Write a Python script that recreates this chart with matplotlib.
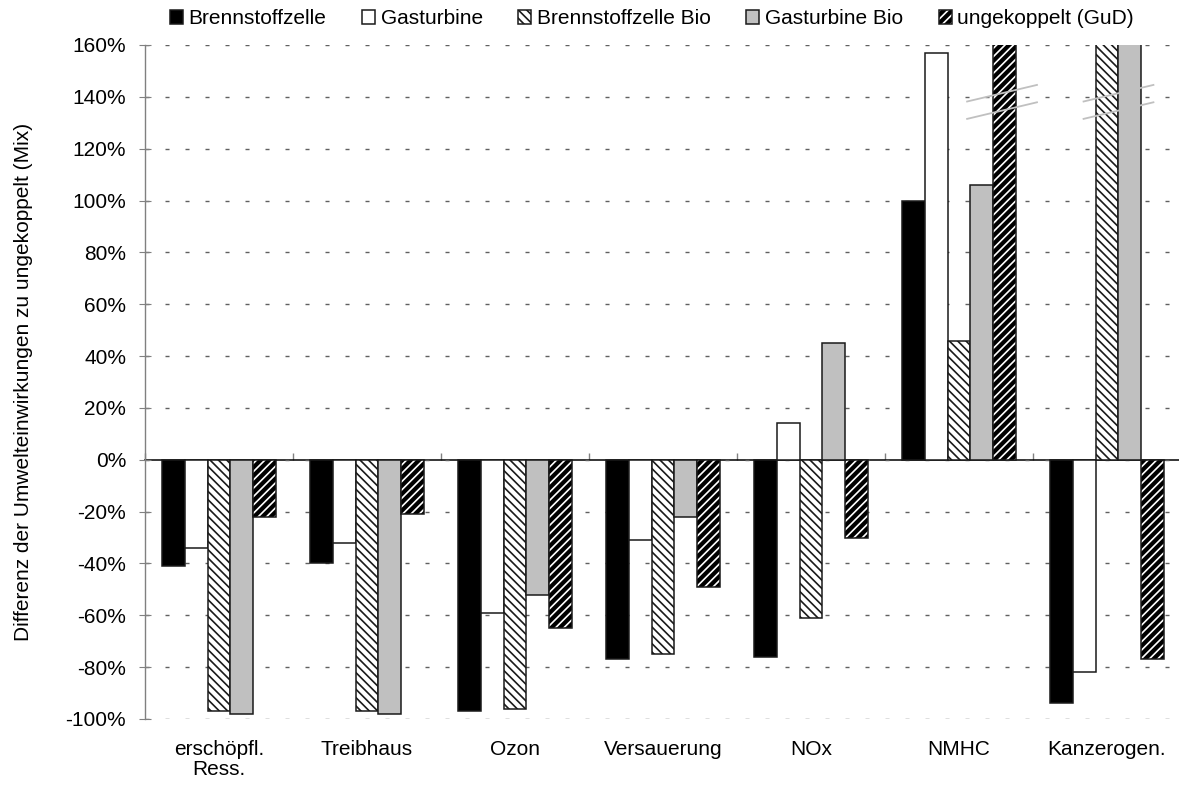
import numpy as np
import matplotlib
matplotlib.use("Agg")
import matplotlib.pyplot as plt
from matplotlib.ticker import FuncFormatter

plt.rcParams['font.family'] = ['Liberation Sans', 'DejaVu Sans']
plt.rcParams['font.size'] = 15
plt.rcParams['hatch.linewidth'] = 1.2

# data (% difference vs. uncoupled generation); values above 160% are off-scale
categories = ['erschöpfl.\nRess.', 'Treibhaus', 'Ozon', 'Versauerung', 'NOx', 'NMHC', 'Kanzerogen.']
brennstoffzelle = [-41, -40, -97, -77, -76, 100, -94]
gasturbine = [-34, -32, -59, -31, 14, 157, -82]
brennstoffzelle_bio = [-97, -97, -96, -75, -61, 46, 380]
gasturbine_bio = [-98, -98, -52, -22, 45, 106, 300]
ungekoppelt = [-22, -21, -65, -49, -30, 250, -77]
series_names = ['Brennstoffzelle', 'Gasturbine', 'Brennstoffzelle Bio',
                'Gasturbine Bio', 'ungekoppelt (GuD)']
yticks = np.arange(-100, 161, 20)

fig = plt.figure(figsize=(11.79, 7.94), dpi=100)
ax = fig.add_axes([145 / 1179, 1 - 719 / 794, 1036 / 1179, 674 / 794])

n = len(categories)
x = np.arange(n) + 0.5
w = 0.1554
offs = (np.arange(5) - 2) * w
edge = '#1a1a1a'
lw = 1.1

b1 = ax.bar(x + offs[0], brennstoffzelle, w, color='black', edgecolor=edge, lw=lw)
b2 = ax.bar(x + offs[1], gasturbine, w, color='white', edgecolor=edge, lw=lw)
b3 = ax.bar(x + offs[2], brennstoffzelle_bio, w, color='white', edgecolor=edge, lw=lw,
            hatch='\\\\\\\\')
b4 = ax.bar(x + offs[3], gasturbine_bio, w, color='#c0c0c0', edgecolor=edge, lw=lw)
# dense hatch: black face with white stripes, outline drawn separately
b5f = ax.bar(x + offs[4], ungekoppelt, w, color='black', edgecolor='white', lw=0,
             hatch='////')
b5e = ax.bar(x + offs[4], ungekoppelt, w, fill=False, edgecolor=edge, lw=lw)

ax.set_xlim(0, n)
ax.set_ylim(-100, 160)
ax.set_yticks(yticks)
ax.yaxis.set_major_formatter(FuncFormatter(lambda v, p: f'{v:.0f}%'))
ax.set_xticks(x, categories, linespacing=1.1)
ax.tick_params(axis='x', length=0, pad=15)
ax.tick_params(axis='y', direction='inout', length=8, color='#808080', pad=9.5)

for s in ['top', 'right', 'bottom']:
    ax.spines[s].set_visible(False)
ax.spines['left'].set_color('#808080')
ax.spines['left'].set_linewidth(1.0)

ax.set_axisbelow(True)
ax.yaxis.grid(True, color='#606060', lw=1.0, dashes=(2.9, 11.5))

# zero line with category boundary ticks
zero_frac = (0 - (-100)) / (160 - (-100))
sec = ax.secondary_xaxis(zero_frac)
sec.set_xticks(np.arange(n + 1))
sec.set_xticklabels([])
sec.tick_params(direction='in', length=5, color='#808080', width=1)
sec.spines['bottom'].set_color('black')
sec.spines['bottom'].set_linewidth(1.1)
sec.spines['top'].set_visible(False)

# axis-break marks on off-scale bars
def break_marks(xc, half=0.236, lo=131.5, gap=6.7, rise=6.4):
    for y0 in (lo, lo + gap):
        ax.plot([xc - half, xc + half], [y0, y0 + rise], color='#c0c0c0', lw=1.3, zorder=6)

break_marks(x[5] + offs[4] - 0.02)
break_marks(x[6] + (offs[2] + offs[3]) / 2)

fig.text(24 / 1179, 1 - 382 / 794, 'Differenz der Umwelteinwirkungen zu ungekoppelt (Mix)',
         rotation=90, ha='center', va='center')

fig.legend([b1, b2, b3, b4, (b5f, b5e)], series_names, loc='center', ncol=5,
           bbox_to_anchor=(0.553, 1 - 19 / 794), frameon=False,
           handlelength=0.63, handleheight=0.63, handletextpad=0.27,
           columnspacing=1.7, borderpad=0)

fig.savefig('out.png', dpi=100)
